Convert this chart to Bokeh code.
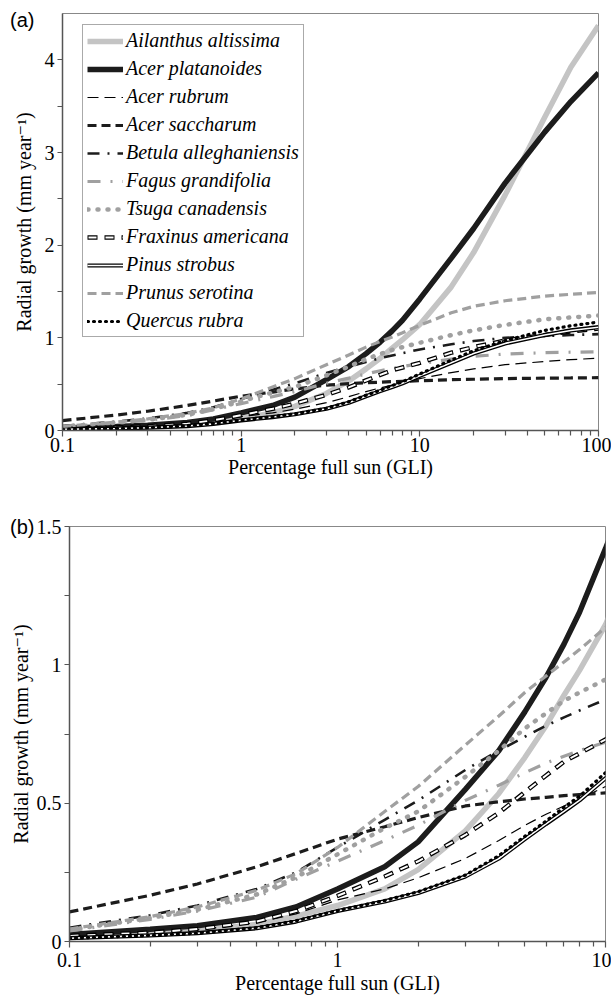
from bokeh.plotting import figure
from bokeh.models import (Range1d, FixedTicker, CustomJSTickFormatter, Legend,
                          LegendItem, Div)
from bokeh.layouts import column, row
from bokeh.embed import file_html
from bokeh.resources import INLINE

# ---------------- data ----------------
gli = [0.1, 0.2, 0.3, 0.5, 0.7, 1, 1.5, 2, 3, 4, 5, 6, 7, 8, 10, 15, 20, 30, 50, 70, 100]

ailanthus_altissima   = [0.015, 0.028, 0.040, 0.062, 0.092, 0.130, 0.190, 0.260, 0.400, 0.535, 0.665, 0.780, 0.890, 0.980, 1.145, 1.550, 1.920, 2.540, 3.380, 3.920, 4.370]
acer_platanoides      = [0.025, 0.044, 0.057, 0.087, 0.125, 0.190, 0.270, 0.360, 0.550, 0.690, 0.830, 0.955, 1.075, 1.190, 1.420, 1.860, 2.180, 2.670, 3.220, 3.550, 3.860]
acer_rubrum           = [0.020, 0.032, 0.042, 0.068, 0.100, 0.150, 0.190, 0.230, 0.300, 0.365, 0.420, 0.460, 0.490, 0.515, 0.560, 0.625, 0.665, 0.710, 0.745, 0.765, 0.780]
acer_saccharum        = [0.107, 0.167, 0.208, 0.270, 0.318, 0.370, 0.415, 0.448, 0.490, 0.505, 0.515, 0.521, 0.527, 0.531, 0.537, 0.548, 0.553, 0.560, 0.565, 0.567, 0.570]
betula_alleghaniensis = [0.050, 0.095, 0.130, 0.190, 0.250, 0.340, 0.440, 0.510, 0.620, 0.690, 0.740, 0.780, 0.810, 0.835, 0.875, 0.930, 0.965, 1.000, 1.020, 1.030, 1.040]
fagus_grandifolia     = [0.038, 0.080, 0.110, 0.160, 0.225, 0.290, 0.365, 0.420, 0.510, 0.565, 0.610, 0.645, 0.670, 0.690, 0.720, 0.770, 0.800, 0.825, 0.840, 0.845, 0.850]
tsuga_canadensis      = [0.042, 0.085, 0.115, 0.170, 0.232, 0.315, 0.410, 0.470, 0.595, 0.690, 0.770, 0.825, 0.870, 0.900, 0.947, 1.030, 1.080, 1.140, 1.200, 1.220, 1.240]
fraxinus_americana    = [0.020, 0.032, 0.045, 0.072, 0.110, 0.165, 0.235, 0.290, 0.385, 0.465, 0.540, 0.600, 0.650, 0.680, 0.730, 0.840, 0.900, 0.970, 1.030, 1.070, 1.100]
pinus_strobus         = [0.012, 0.022, 0.030, 0.048, 0.072, 0.110, 0.145, 0.175, 0.235, 0.300, 0.370, 0.425, 0.470, 0.510, 0.590, 0.730, 0.830, 0.940, 1.030, 1.080, 1.115]
prunus_serotina       = [0.045, 0.090, 0.125, 0.185, 0.245, 0.340, 0.470, 0.560, 0.710, 0.815, 0.900, 0.960, 1.010, 1.055, 1.135, 1.270, 1.340, 1.400, 1.450, 1.470, 1.490]
quercus_rubra         = [0.012, 0.022, 0.030, 0.050, 0.075, 0.112, 0.148, 0.180, 0.240, 0.310, 0.380, 0.435, 0.485, 0.525, 0.610, 0.760, 0.860, 0.970, 1.080, 1.130, 1.170]

species_names = ["Ailanthus altissima", "Acer platanoides", "Acer rubrum", "Acer saccharum",
                 "Betula alleghaniensis", "Fagus grandifolia", "Tsuga canadensis",
                 "Fraxinus americana", "Pinus strobus", "Prunus serotina", "Quercus rubra"]
species_values = [ailanthus_altissima, acer_platanoides, acer_rubrum, acer_saccharum,
                  betula_alleghaniensis, fagus_grandifolia, tsuga_canadensis,
                  fraxinus_americana, pinus_strobus, prunus_serotina, quercus_rubra]

panel_tags = ["(a)", "(b)"]
x_major_a = [0.1, 1, 10, 100]
x_major_b = [0.1, 1, 10]
y_major_a = [0, 1, 2, 3, 4]
y_minor_a = [0.5, 1.5, 2.5, 3.5]
y_major_b = [0, 0.5, 1, 1.5]
y_minor_b = [0.25, 0.75, 1.25]

# ---------------- styles ----------------
GRAY = "#a0a0a0"
LIGHT = "#c4c4c4"
DARK = "#1c1c1c"
styles = [
    [dict(line_color=LIGHT, line_width=5.5)],
    [dict(line_color=DARK, line_width=5.5)],
    [dict(line_color="black", line_width=1.2, line_dash="11 6")],
    [dict(line_color=DARK, line_width=3.2, line_dash="9 5")],
    [dict(line_color=DARK, line_width=2.6, line_dash="12 8 2 8")],
    [dict(line_color=GRAY, line_width=3.2, line_dash="13 10 2 10")],
    [dict(line_color=GRAY, line_width=4.5, line_dash="1 9", line_cap="round")],
    [dict(line_color="black", line_width=4.5, line_dash="10 7"),
     dict(line_color="white", line_width=2.0, line_dash="8 9", line_dash_offset=-1)],
    [dict(line_color="black", line_width=4.2),
     dict(line_color="white", line_width=1.6)],
    [dict(line_color=GRAY, line_width=3.2, line_dash="9 5")],
    [dict(line_color="black", line_width=3.2, line_dash="1 5", line_cap="round")],
]

SERIF = "'Liberation Serif', 'DejaVu Serif', serif"
AXC = "#555555"


def make_fig(width, height, xmax, ymax, xmajor, ymajor, yminor, bl, br, bt, bb,
             xl_stand, xa_stand, ya_stand):
    p = figure(width=width, height=height, x_axis_type="log",
               x_range=Range1d(0.1, xmax), y_range=Range1d(0, ymax),
               output_backend="svg", toolbar_location=None,
               min_border_left=bl, min_border_right=br,
               min_border_top=bt, min_border_bottom=bb)
    p.xgrid.visible = False
    p.ygrid.visible = False
    p.outline_line_color = "#888888"
    p.outline_line_width = 1
    p.background_fill_color = "white"
    p.border_fill_color = "white"
    xminor = [m * d for d in xmajor[:-1] for m in range(2, 10)]
    p.xaxis.ticker = FixedTicker(ticks=xmajor, minor_ticks=xminor)
    p.yaxis.ticker = FixedTicker(ticks=ymajor, minor_ticks=yminor)
    fmt = "return String(+tick.toFixed(3));"
    p.xaxis.formatter = CustomJSTickFormatter(code=fmt)
    p.yaxis.formatter = CustomJSTickFormatter(code=fmt)
    for ax in p.axis:
        ax.axis_line_color = AXC
        ax.axis_line_width = 1.5
        ax.major_tick_line_color = AXC
        ax.minor_tick_line_color = AXC
        ax.major_tick_line_width = 1.2
        ax.minor_tick_line_width = 1.2
        ax.major_tick_in = 0
        ax.major_tick_out = 6
        ax.minor_tick_in = 0
        ax.minor_tick_out = 5
        ax.major_label_text_font = SERIF
        ax.major_label_text_font_size = "20px"
        ax.major_label_text_color = "black"
        ax.axis_label_text_font = SERIF
        ax.axis_label_text_font_size = "20px"
        ax.axis_label_text_font_style = "normal"
        ax.axis_label_text_color = "black"
    p.xaxis.axis_label = "Percentage full sun (GLI)"
    p.yaxis.axis_label = "Radial growth (mm year\u207b\u00b9)"
    p.xaxis.major_label_standoff = xl_stand
    p.yaxis.major_label_standoff = 3
    p.yaxis.major_tick_out = 5
    p.yaxis.minor_tick_out = 5
    p.xaxis.axis_label_standoff = xa_stand
    p.yaxis.axis_label_standoff = ya_stand
    p.yaxis.major_label_orientation = "horizontal"
    return p


pa = make_fig(611, 490, 100, 4.5, x_major_a, y_major_a, y_minor_a,
              62, 13, 13, 60, 1, 1, 7)
pb = make_fig(611, 508, 10, 1.5, x_major_b, y_major_b, y_minor_b,
              69, 6, 36, 57, 5, 2, 2)

items = []
for name, vals, layers in zip(species_names, species_values, styles):
    rs = []
    for st in layers:
        rs.append(pa.line(gli, vals, **st))
        pb.line(gli, vals, **st)
    items.append(LegendItem(label=name, renderers=rs))

legend = Legend(items=items, location=(20, 93),
                label_text_font=SERIF, label_text_font_style="italic",
                label_text_font_size="20px", label_text_color="black",
                label_height=22, glyph_height=22, glyph_width=36,
                label_standoff=3, spacing=5, padding=4, margin=0,
                border_line_color="#555555", border_line_width=1,
                background_fill_color="white", background_fill_alpha=1)
pa.add_layout(legend)


def tag_div(text, left, top):
    return Div(text=text, width=34, height=24,
               styles={"position": "absolute", "left": f"{left}px", "top": f"{top}px",
                       "font-family": "'Liberation Sans', Arial, sans-serif",
                       "font-size": "20px", "line-height": "22px", "color": "black",
                       "z-index": "10", "margin": "0", "padding": "0"})


div_a = tag_div(panel_tags[0], 10, 9)
div_b = tag_div(panel_tags[1], 10, 516)

layout = column(row(pa), row(pb), div_a, div_b, spacing=0)
open("out.html", "w").write(file_html(layout, INLINE))
